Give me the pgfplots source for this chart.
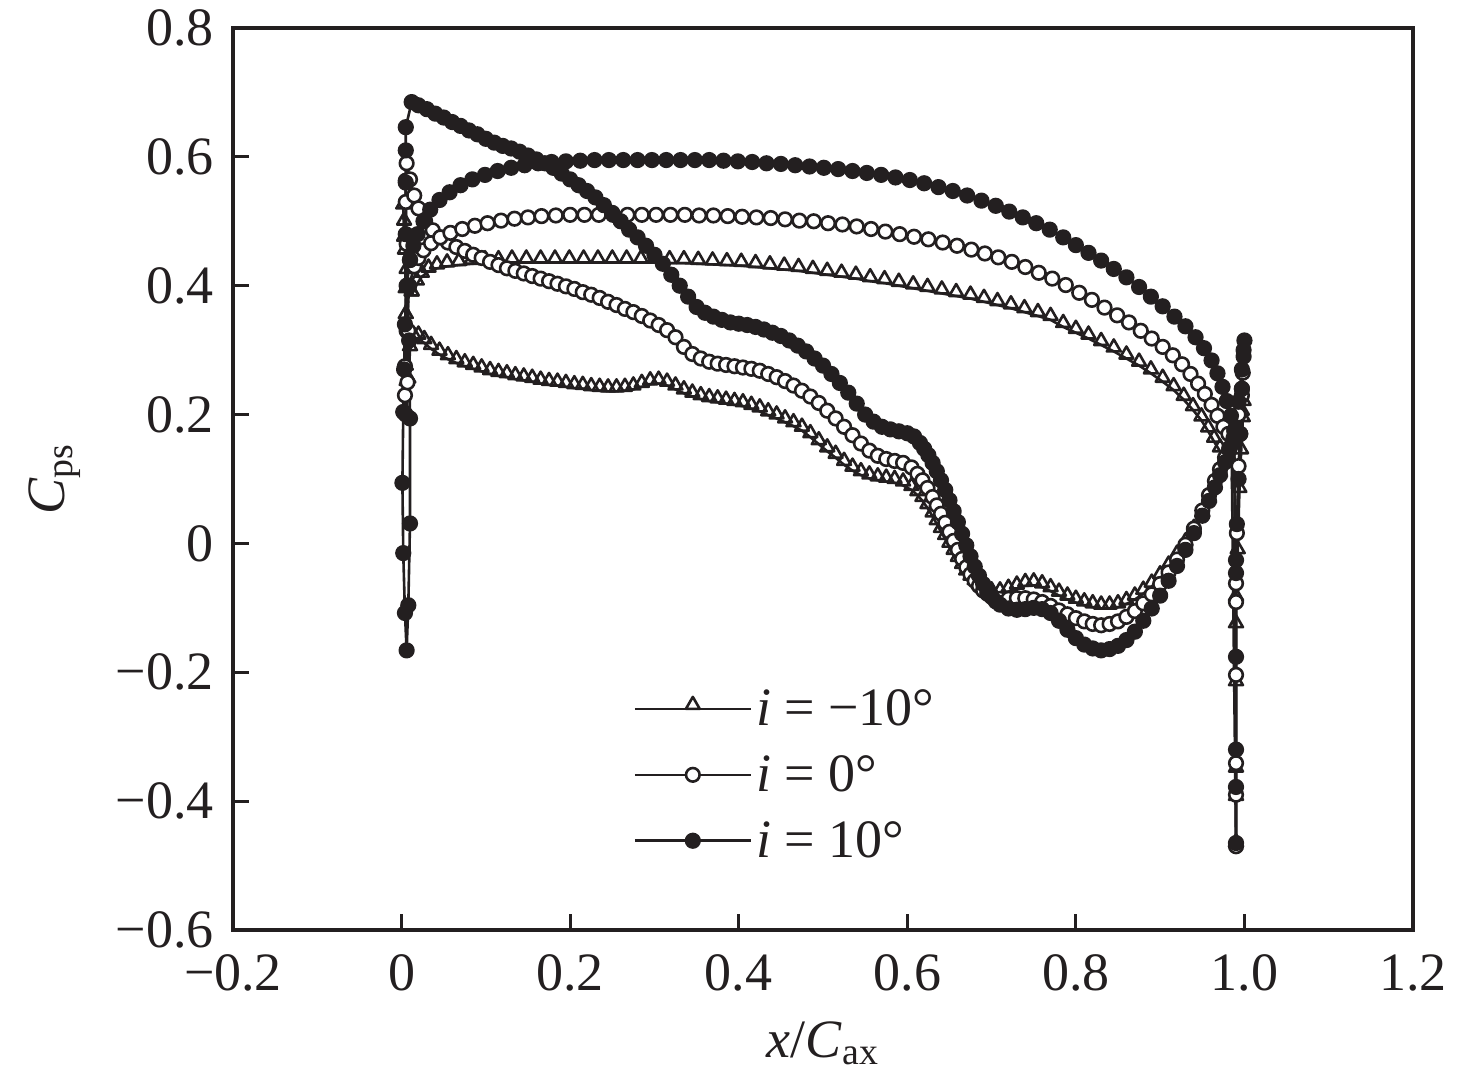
\documentclass[border=0pt]{standalone}
\usepackage{fontspec}
\setmainfont{Liberation Serif}
\usepackage{pgfplots}
\pgfplotsset{compat=1.18}
\definecolor{ink}{RGB}{35,31,32}
\newcommand{\bigfont}{\fontsize{27}{32}\selectfont}
\begin{document}
\begin{tikzpicture}
\begin{axis}[
  width=590pt, height=451pt, scale only axis,
  xmin=-0.2, xmax=1.2, ymin=-0.6, ymax=0.8,
  xtick={-0.2,0,0.2,0.4,0.6,0.8,1.0,1.2},
  xticklabels={−0.2,0,0.2,0.4,0.6,0.8,1.0,1.2},
  ytick={-0.6,-0.4,-0.2,0,0.2,0.4,0.6,0.8},
  yticklabels={−0.6,−0.4,−0.2,0,0.2,0.4,0.6,0.8},
  tick align=inside, xtick pos=bottom, ytick pos=left,
  major tick length=8pt,
  axis line style={line width=1.6pt, ink},
  every tick/.style={line width=1.6pt, ink},
  tick label style={font=\bigfont, text=ink},
  xticklabel style={yshift=-9pt},
  yticklabel style={xshift=-6pt},
  label style={font=\bigfont, text=ink},
  xlabel={\textit{x}/\textit{C}\textsubscript{ax}},
  ylabel={\textit{C}\textsubscript{ps}},
  xlabel style={at={(axis description cs:0.5,-0.141)}, anchor=base},
  ylabel style={at={(axis description cs:-0.151,0.5)}, anchor=center, rotate=0},
  legend style={draw=none, fill=none, at={(0.334,0.276)}, anchor=north west,
    font=\bigfont, text=ink, row sep=9.5pt},
  legend cell align=left,
  legend image code/.code={\draw[mark repeat=2,mark phase=2,#1] plot coordinates {(0pt,0pt) (29pt,0pt) (58pt,0pt)};},
  every axis plot/.append style={line width=1.3pt, ink, line join=round},
]
% ---------- i = -10 ----------
\addplot[mark=triangle, mark size=4pt, mark options={fill=white, yshift=2pt}] coordinates {
(0.012,0.385) (0.006,0.420) (0.003,0.470) (0.002,0.520) (0.003,0.495) (0.004,0.450) (0.005,0.390) (0.005,0.350) (0.005,0.270) (0.006,0.246) (0.006,0.195) (0.008,0.250)
(0.010,0.300) (0.015,0.316) (0.020,0.318) (0.027,0.311) (0.035,0.302) (0.045,0.293) (0.055,0.286) (0.065,0.280) (0.075,0.275) (0.085,0.271) (0.095,0.267) (0.105,0.263) (0.115,0.260) (0.125,0.258) (0.135,0.255) (0.145,0.253) (0.155,0.251) (0.165,0.248) (0.175,0.246) (0.185,0.245) (0.195,0.243) (0.205,0.241) (0.215,0.240) (0.225,0.238) (0.235,0.237) (0.245,0.236) (0.255,0.236) (0.265,0.237) (0.275,0.239) (0.285,0.243) (0.295,0.247) (0.305,0.248) (0.315,0.245) (0.325,0.239) (0.335,0.233) (0.345,0.228) (0.355,0.224) (0.365,0.221) (0.375,0.219) (0.385,0.217) (0.395,0.215) (0.405,0.213) (0.415,0.209) (0.425,0.205) (0.435,0.199) (0.445,0.194) (0.455,0.188) (0.465,0.182) (0.475,0.175) (0.485,0.165) (0.495,0.154) (0.505,0.143) (0.515,0.133) (0.525,0.122) (0.535,0.113) (0.545,0.106) (0.555,0.101) (0.565,0.098) (0.575,0.096) (0.585,0.094) (0.595,0.090) (0.605,0.083) (0.612,0.075) (0.618,0.066) (0.624,0.055) (0.630,0.042) (0.635,0.030) (0.640,0.018) (0.645,0.007) (0.650,-0.005) (0.655,-0.016) (0.660,-0.027) (0.665,-0.038) (0.670,-0.048) (0.675,-0.056) (0.680,-0.063) (0.685,-0.069) (0.690,-0.074) (0.695,-0.077) (0.700,-0.079) (0.710,-0.079) (0.720,-0.075) (0.730,-0.070) (0.740,-0.066) (0.750,-0.065) (0.760,-0.068) (0.770,-0.074) (0.780,-0.081) (0.790,-0.087) (0.800,-0.092) (0.810,-0.096) (0.820,-0.099) (0.830,-0.101) (0.840,-0.101) (0.850,-0.099) (0.860,-0.094) (0.870,-0.087) (0.880,-0.078) (0.890,-0.067) (0.900,-0.054) (0.910,-0.039) (0.920,-0.022) (0.930,-0.003) (0.940,0.018) (0.950,0.042) (0.958,0.064) (0.965,0.085) (0.971,0.104) (0.977,0.122) (0.982,0.140) (0.987,0.158)
(0.993,0.170) (0.997,0.200) (0.999,0.215) (0.998,0.190) (0.996,0.140) (0.994,0.080) (0.992,-0.015) (0.990,-0.088) (0.990,-0.130) (0.990,-0.220) (0.990,-0.354) (0.990,-0.398) (0.990,-0.470) (0.985,0.120)
};
\addlegendentry{\textit{i} = −10°}
\addplot[forget plot, mark=triangle, mark size=4pt, mark options={fill=white, yshift=2pt}] coordinates {
(0.012,0.385) (0.018,0.402) (0.024,0.414) (0.032,0.422) (0.042,0.427) (0.054,0.430) (0.068,0.432) (0.083,0.434) (0.099,0.435) (0.115,0.435) (0.131,0.436) (0.148,0.436) (0.165,0.436) (0.182,0.436) (0.199,0.436) (0.216,0.436) (0.233,0.436) (0.250,0.436) (0.267,0.436) (0.284,0.436) (0.301,0.436) (0.318,0.435) (0.335,0.435) (0.352,0.434) (0.369,0.433) (0.386,0.432) (0.403,0.431) (0.420,0.429) (0.437,0.427) (0.454,0.425) (0.471,0.423) (0.488,0.420) (0.505,0.417) (0.522,0.414) (0.539,0.411) (0.556,0.407) (0.573,0.404) (0.590,0.400) (0.607,0.396) (0.624,0.392) (0.641,0.388) (0.658,0.384) (0.675,0.380) (0.691,0.375) (0.707,0.370) (0.723,0.365) (0.739,0.359) (0.755,0.353) (0.770,0.347) (0.785,0.336) (0.800,0.327) (0.815,0.318) (0.830,0.308) (0.845,0.298) (0.860,0.287) (0.875,0.276) (0.889,0.264) (0.903,0.251) (0.916,0.238) (0.928,0.223) (0.939,0.207) (0.949,0.191) (0.957,0.174) (0.964,0.158) (0.971,0.143) (0.978,0.130) (0.985,0.120)
};
% ---------- i = 0 ----------
\addplot[mark=*, mark size=3.4pt, mark options={fill=white}] coordinates {
(0.015,0.430) (0.009,0.400) (0.006,0.330) (0.004,0.275) (0.004,0.230) (0.005,0.200) (0.007,0.250) (0.008,0.330) (0.007,0.400) (0.006,0.465) (0.005,0.530) (0.005,0.563)
(0.006,0.590) (0.010,0.565) (0.015,0.540) (0.020,0.520) (0.028,0.500) (0.037,0.486) (0.046,0.475) (0.055,0.467) (0.065,0.460) (0.075,0.454) (0.085,0.448) (0.095,0.443) (0.105,0.437) (0.115,0.432) (0.125,0.427) (0.135,0.423) (0.145,0.419) (0.155,0.415) (0.165,0.411) (0.175,0.407) (0.185,0.403) (0.195,0.399) (0.205,0.395) (0.215,0.390) (0.225,0.386) (0.235,0.381) (0.245,0.375) (0.255,0.370) (0.265,0.364) (0.275,0.359) (0.285,0.353) (0.295,0.346) (0.305,0.339) (0.315,0.331) (0.325,0.320) (0.335,0.305) (0.345,0.294) (0.355,0.287) (0.365,0.282) (0.375,0.279) (0.385,0.277) (0.395,0.275) (0.405,0.273) (0.415,0.271) (0.425,0.268) (0.435,0.263) (0.445,0.258) (0.455,0.252) (0.465,0.245) (0.475,0.237) (0.485,0.228) (0.495,0.218) (0.505,0.206) (0.515,0.194) (0.525,0.181) (0.535,0.168) (0.545,0.155) (0.555,0.144) (0.565,0.136) (0.575,0.131) (0.585,0.128) (0.595,0.125) (0.605,0.118) (0.612,0.108) (0.618,0.098) (0.624,0.086) (0.630,0.072) (0.635,0.059) (0.640,0.046) (0.645,0.032) (0.650,0.018) (0.655,0.004) (0.660,-0.010) (0.665,-0.024) (0.670,-0.037) (0.675,-0.048) (0.680,-0.058) (0.685,-0.066) (0.690,-0.073) (0.695,-0.078) (0.700,-0.082) (0.710,-0.086) (0.720,-0.086) (0.730,-0.085) (0.740,-0.085) (0.750,-0.087) (0.760,-0.091) (0.770,-0.097) (0.780,-0.104) (0.790,-0.110) (0.800,-0.116) (0.810,-0.121) (0.820,-0.125) (0.830,-0.127) (0.840,-0.125) (0.850,-0.121) (0.860,-0.114) (0.870,-0.105) (0.880,-0.093) (0.890,-0.079) (0.900,-0.063) (0.910,-0.045) (0.920,-0.025) (0.930,-0.002) (0.940,0.023) (0.950,0.051) (0.958,0.075) (0.965,0.097) (0.971,0.115) (0.977,0.133) (0.982,0.148) (0.987,0.163)
(0.993,0.200) (0.997,0.240) (0.998,0.265) (0.997,0.230) (0.995,0.170) (0.993,0.120) (0.991,0.016) (0.990,-0.062) (0.990,-0.091) (0.990,-0.204) (0.990,-0.341) (0.990,-0.390) (0.990,-0.470) (0.988,0.165)
};
\addlegendentry{\textit{i} = 0°}
\addplot[forget plot, mark=*, mark size=3.4pt, mark options={fill=white}] coordinates {
(0.015,0.430) (0.020,0.443) (0.026,0.455) (0.035,0.466) (0.046,0.475) (0.058,0.482) (0.072,0.488) (0.087,0.493) (0.102,0.497) (0.118,0.501) (0.134,0.504) (0.150,0.506) (0.166,0.508) (0.183,0.509) (0.200,0.510) (0.217,0.510) (0.234,0.510) (0.251,0.510) (0.268,0.510) (0.285,0.510) (0.302,0.510) (0.319,0.510) (0.336,0.510) (0.353,0.509) (0.370,0.509) (0.387,0.508) (0.404,0.507) (0.421,0.506) (0.438,0.505) (0.455,0.503) (0.472,0.501) (0.489,0.500) (0.506,0.497) (0.523,0.495) (0.540,0.492) (0.557,0.488) (0.574,0.484) (0.591,0.480) (0.608,0.476) (0.625,0.472) (0.642,0.467) (0.659,0.462) (0.676,0.456) (0.692,0.450) (0.708,0.444) (0.724,0.437) (0.740,0.429) (0.756,0.420) (0.772,0.411) (0.788,0.401) (0.804,0.389) (0.819,0.378) (0.834,0.366) (0.849,0.354) (0.863,0.343) (0.877,0.330) (0.890,0.318) (0.903,0.305) (0.915,0.292) (0.926,0.278) (0.936,0.263) (0.945,0.248) (0.953,0.232) (0.961,0.215) (0.968,0.198) (0.975,0.181) (0.981,0.170) (0.988,0.165)
};
% ---------- i = 10 ----------
\addplot[mark=*, mark size=3.4pt, mark options={fill=ink}] coordinates {
(0.010,0.440) (0.006,0.400) (0.004,0.340) (0.003,0.270) (0.002,0.204) (0.001,0.094) (0.002,-0.015) (0.004,-0.108) (0.006,-0.166) (0.008,-0.096) (0.010,0.031) (0.010,0.194) (0.009,0.315) (0.007,0.400) (0.005,0.480) (0.005,0.560) (0.005,0.610) (0.005,0.646)
(0.012,0.685) (0.020,0.680) (0.030,0.674) (0.040,0.667) (0.050,0.661) (0.060,0.654) (0.070,0.648) (0.080,0.641) (0.090,0.635) (0.100,0.628) (0.110,0.622) (0.120,0.617) (0.130,0.613) (0.140,0.608) (0.150,0.602) (0.160,0.596) (0.170,0.590) (0.180,0.583) (0.190,0.574) (0.200,0.565) (0.210,0.556) (0.220,0.547) (0.230,0.537) (0.240,0.525) (0.250,0.513) (0.260,0.500) (0.270,0.487) (0.280,0.475) (0.290,0.462) (0.300,0.448) (0.310,0.434) (0.320,0.417) (0.330,0.400) (0.340,0.383) (0.350,0.367) (0.360,0.358) (0.370,0.352) (0.380,0.347) (0.390,0.343) (0.400,0.341) (0.410,0.339) (0.420,0.336) (0.430,0.332) (0.440,0.327) (0.450,0.322) (0.460,0.315) (0.470,0.307) (0.480,0.298) (0.490,0.287) (0.500,0.276) (0.510,0.263) (0.520,0.249) (0.530,0.234) (0.540,0.217) (0.550,0.200) (0.560,0.189) (0.570,0.181) (0.580,0.177) (0.590,0.174) (0.600,0.171) (0.608,0.166) (0.615,0.156) (0.620,0.147) (0.625,0.137) (0.630,0.125) (0.635,0.112) (0.640,0.098) (0.645,0.083) (0.650,0.067) (0.655,0.050) (0.660,0.033) (0.665,0.015) (0.670,-0.003) (0.675,-0.020) (0.680,-0.036) (0.685,-0.050) (0.690,-0.063) (0.695,-0.075) (0.700,-0.083) (0.705,-0.090) (0.710,-0.095) (0.720,-0.101) (0.730,-0.103) (0.740,-0.102) (0.750,-0.100) (0.760,-0.102) (0.770,-0.108) (0.780,-0.120) (0.790,-0.134) (0.800,-0.147) (0.810,-0.157) (0.820,-0.163) (0.830,-0.166) (0.840,-0.164) (0.850,-0.159) (0.860,-0.150) (0.870,-0.137) (0.880,-0.120) (0.890,-0.101) (0.900,-0.081) (0.910,-0.058) (0.920,-0.035) (0.930,-0.010) (0.940,0.016) (0.950,0.043) (0.958,0.066) (0.965,0.087) (0.971,0.106) (0.977,0.126) (0.982,0.145) (0.987,0.163)
(0.993,0.220) (0.997,0.270) (0.999,0.300) (1.000,0.315) (0.999,0.290) (0.997,0.240) (0.995,0.170) (0.993,0.100) (0.991,0.030) (0.990,-0.026) (0.990,-0.046) (0.990,-0.176) (0.990,-0.320) (0.990,-0.378) (0.990,-0.465) (0.988,0.175)
};
\addlegendentry{\textit{i} = 10°}
\addplot[forget plot, mark=*, mark size=3.4pt, mark options={fill=ink}] coordinates {
(0.010,0.440) (0.014,0.462) (0.019,0.480) (0.026,0.500) (0.034,0.518) (0.045,0.533) (0.057,0.545) (0.070,0.556) (0.084,0.565) (0.099,0.572) (0.114,0.578) (0.130,0.583) (0.146,0.587) (0.162,0.590) (0.178,0.592) (0.195,0.593) (0.212,0.594) (0.229,0.595) (0.246,0.595) (0.263,0.595) (0.280,0.595) (0.297,0.595) (0.314,0.595) (0.331,0.595) (0.348,0.595) (0.365,0.595) (0.382,0.594) (0.399,0.593) (0.416,0.592) (0.433,0.590) (0.450,0.589) (0.467,0.587) (0.484,0.585) (0.501,0.583) (0.518,0.581) (0.535,0.578) (0.552,0.575) (0.569,0.572) (0.586,0.568) (0.603,0.564) (0.620,0.559) (0.637,0.553) (0.654,0.547) (0.671,0.540) (0.688,0.532) (0.705,0.524) (0.721,0.515) (0.737,0.506) (0.753,0.497) (0.769,0.487) (0.785,0.475) (0.800,0.463) (0.815,0.451) (0.830,0.439) (0.845,0.426) (0.860,0.413) (0.875,0.398) (0.889,0.383) (0.903,0.368) (0.917,0.352) (0.930,0.337) (0.942,0.320) (0.952,0.303) (0.961,0.284) (0.968,0.264) (0.974,0.243) (0.979,0.221) (0.984,0.198) (0.988,0.175)
};
\end{axis}
\path (current axis.south west) ++(-116.5pt,-75pt) rectangle ++(738pt,540pt);
\end{tikzpicture}
\end{document}
